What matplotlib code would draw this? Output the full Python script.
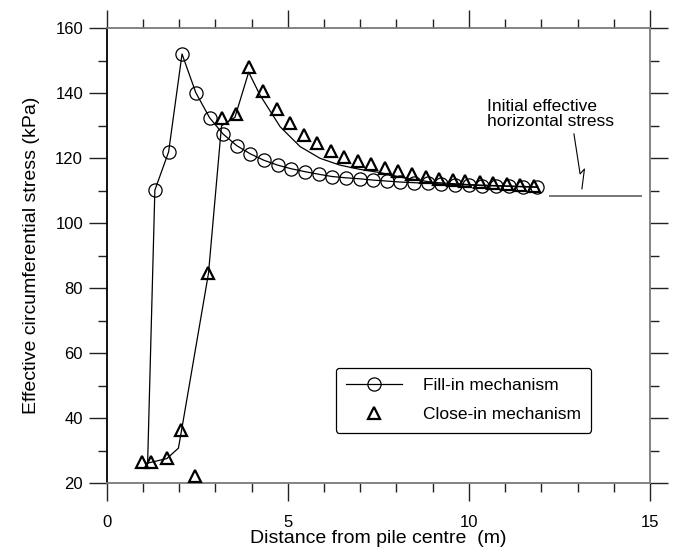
import numpy as np
import matplotlib
matplotlib.use("Agg")
import matplotlib.pyplot as plt

plt.rcParams.update({
    "font.family": ["Liberation Sans", "DejaVu Sans"],
    "font.size": 12,
})

# Fill-in mechanism: stress at each ring of elements (first point is the pile wall)
fill_x = [1.13, 1.33, 1.71, 2.08, 2.46, 2.84, 3.21, 3.59, 3.96, 4.34, 4.72,
          5.09, 5.47, 5.85, 6.22, 6.60, 6.98, 7.35, 7.73, 8.10, 8.48, 8.86,
          9.23, 9.61, 9.99, 10.36, 10.74, 11.12, 11.49, 11.87]
fill_y = [26.2, 110.2, 122.0, 152.1, 140.2, 132.5, 127.5, 123.9, 121.4, 119.4,
          117.9, 116.8, 115.9, 115.1, 114.4, 114.0, 113.7, 113.3, 113.0, 112.7,
          112.5, 112.3, 112.1, 111.9, 111.8, 111.6, 111.5, 111.4, 111.2, 111.1]

# Close-in mechanism: computed points
close_x = [0.98, 1.21, 1.66, 2.05, 2.44, 2.81, 3.19, 3.57, 3.93, 4.32, 4.69,
           5.06, 5.45, 5.81, 6.19, 6.56, 6.95, 7.30, 7.68, 8.05, 8.42, 8.82,
           9.17, 9.55, 9.89, 10.31, 10.67, 11.04, 11.41, 11.81]
close_y = [26.5, 26.5, 27.7, 36.4, 22.2, 84.6, 132.3, 133.6, 148.0, 140.6,
           135.2, 130.9, 127.2, 124.8, 122.3, 120.5, 119.2, 118.1, 116.9, 116.1,
           115.2, 114.4, 113.7, 113.3, 113.0, 112.8, 112.3, 112.1, 111.8, 111.5]

# Close-in mechanism: continuous profile
close_line_x = [1.13, 1.66, 1.98, 2.07, 2.81, 3.17, 3.54, 3.92, 4.23, 4.79,
                5.34, 5.89, 6.44, 6.99, 7.55, 8.20, 9.00, 10.00, 11.00, 11.90]
close_line_y = [26.2, 27.6, 30.8, 36.5, 84.6, 130.0, 132.6, 146.5, 139.5,
                129.7, 123.6, 120.0, 117.9, 116.6, 115.6, 114.0, 112.6, 111.9,
                111.5, 111.2]

# Initial effective horizontal stress
k0_x = [12.24, 14.74]
k0_y = [108.4, 108.4]
k0_arrow_x = [12.90, 13.07, 13.19, 13.12]
k0_arrow_y = [127.5, 115.2, 116.7, 110.6]

fig = plt.figure(figsize=(6.74, 5.52), dpi=100)
ax = fig.add_axes([0.1583, 0.1245, 0.8061, 0.8242])

ax.plot(fill_x, fill_y, color="black", lw=0.9, marker="o", ms=9.5,
        mfc="none", mec="black", mew=0.9, markevery=list(range(1, len(fill_x))),
        label="Fill-in mechanism", zorder=3)
ax.plot(close_line_x, close_line_y, color="black", lw=0.9, zorder=2)
ax.plot(close_x, close_y, ls="none", marker="^", ms=9, mfc="none",
        mec="black", mew=1.6, label="Close-in mechanism", zorder=3)

ax.plot(k0_x, k0_y, color="#777777", lw=1.4)
ax.plot(k0_arrow_x, k0_arrow_y, color="black", lw=0.8)
ax.text(10.5, 133.6, "Initial effective\nhorizontal stress", fontsize=12.5,
        ha="left", va="center", linespacing=1.05)

ax.set_xlim(0, 15)
ax.set_ylim(20, 160)
ax.set_xticks([0, 5, 10, 15])
ax.set_xticks(np.arange(0, 16, 1), minor=True)
ax.set_yticks(np.arange(20, 161, 20))
ax.set_yticks(np.arange(20, 161, 10), minor=True)

for side, s in ax.spines.items():
    s.set_color("black" if side == "left" else "#7a7a7a")
    s.set_linewidth(1.3)
ax.tick_params(which="both", direction="out", top=True, right=True,
               color="#222222", width=1.0)
ax.tick_params(which="major", length=13, labelsize=12)
ax.tick_params(which="minor", length=6.5)
ax.tick_params(axis="x", which="major", pad=10)
ax.tick_params(axis="y", which="major", pad=4)

ax.set_xlabel("Distance from pile centre  (m)", fontsize=14, labelpad=0)
ax.set_ylabel("Effective circumferential stress (kPa)", fontsize=14, labelpad=11)

leg = ax.legend(loc="lower left", bbox_to_anchor=(0.422, 0.111),
                borderaxespad=0, fontsize=12.5, fancybox=True, framealpha=1,
                edgecolor="black", handlelength=3.2, handletextpad=1.2,
                borderpad=0.6, labelspacing=0.8)
leg.get_frame().set_linewidth(0.9)

fig.savefig("out.png", dpi=100)
